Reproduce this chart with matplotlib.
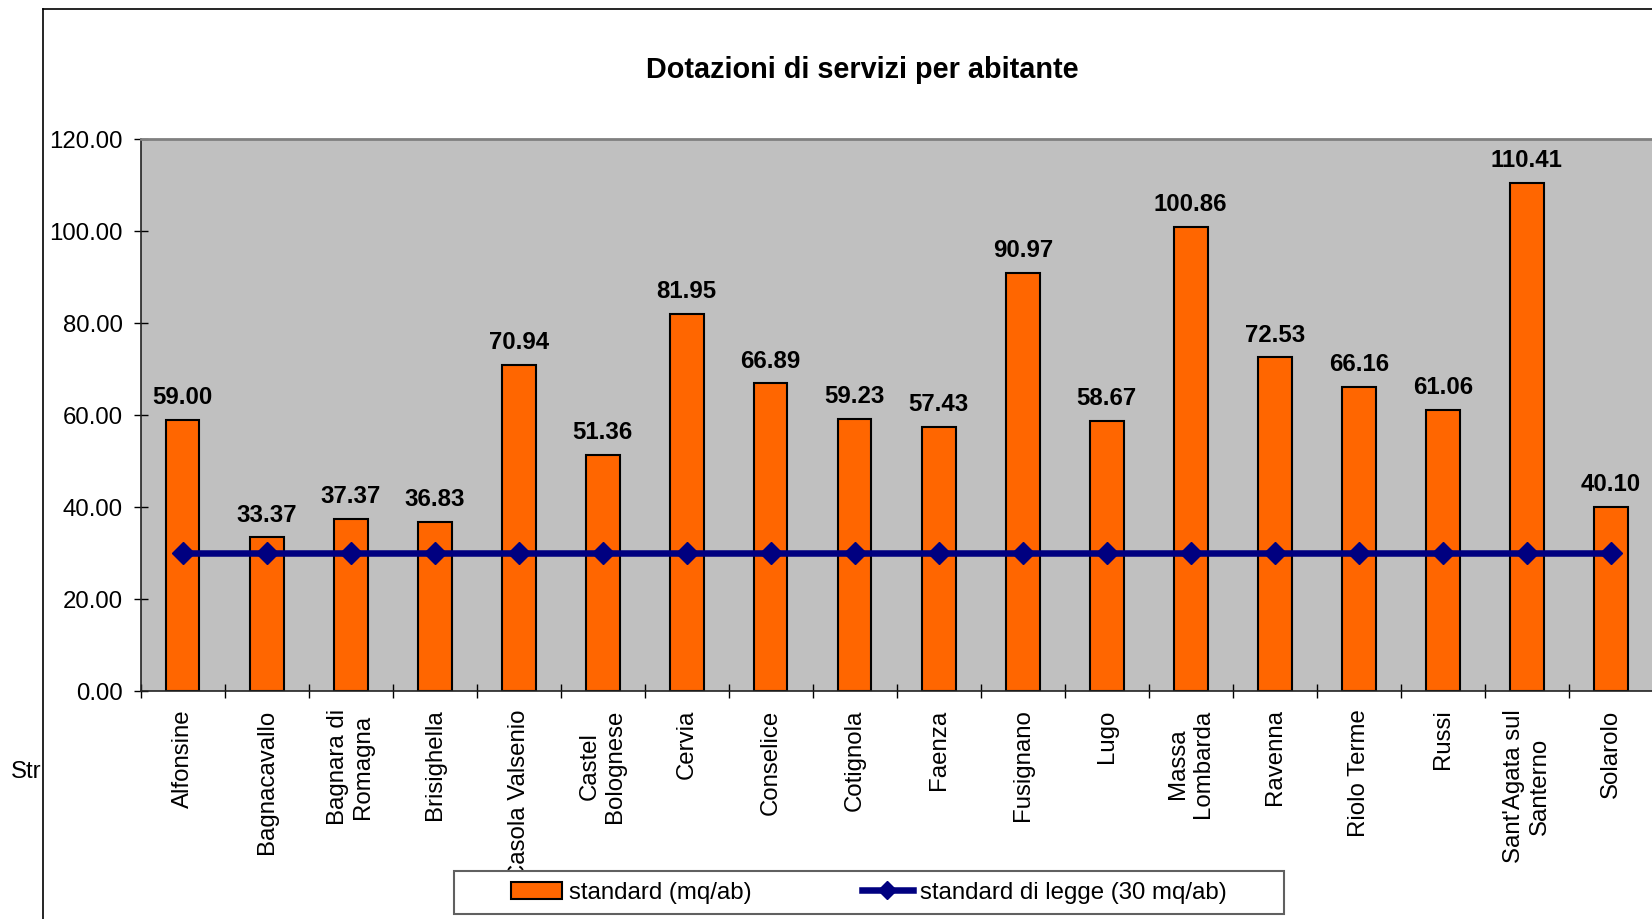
import matplotlib
matplotlib.use("Agg")
import matplotlib.pyplot as plt
from matplotlib.patches import Patch, Rectangle
from matplotlib.lines import Line2D

plt.rcParams['font.family'] = ['Liberation Sans', 'DejaVu Sans']

# Data
comuni = ["Alfonsine", "Bagnacavallo", "Bagnara di\nRomagna", "Brisighella",
          "Casola Valsenio", "Castel\nBolognese", "Cervia", "Conselice",
          "Cotignola", "Faenza", "Fusignano", "Lugo", "Massa\nLombarda",
          "Ravenna", "Riolo Terme", "Russi", "Sant'Agata sul\nSanterno", "Solarolo"]
standard = [59.00, 33.37, 37.37, 36.83, 70.94, 51.36, 81.95, 66.89, 59.23,
            57.43, 90.97, 58.67, 100.86, 72.53, 66.16, 61.06, 110.41, 40.10]
standard_legge = [30] * len(comuni)
yticks = [0, 20, 40, 60, 80, 100, 120]

FS = 17.3

W, H = 1652, 920
fig = plt.figure(figsize=(W / 100, H / 100), dpi=100)

def fx(px):
    return px / W

def fy(py):
    return 1 - py / H

ax_left, ax_right, ax_top, ax_bottom = 140.7, 1652.7, 140, 692
ax = fig.add_axes([fx(ax_left), fy(ax_bottom), (ax_right - ax_left) / W, (ax_bottom - ax_top) / H])
ax.set_facecolor('#C0C0C0')

x = list(range(len(comuni)))
ax.bar(x, standard, width=0.4, color='#FF6600', edgecolor='black', linewidth=1.5, zorder=2)
ax.plot(x, standard_legge, color='#000080', linewidth=4.7, marker='D', markersize=11,
        markeredgecolor='#000080', zorder=3, clip_on=False)

for xi, v in zip(x, standard):
    ax.annotate(f"{v:.2f}", (xi, v), xytext=(0, 12), textcoords='offset points',
                ha='center', va='baseline', fontsize=FS, fontweight='bold',
                annotation_clip=False)

ax.set_xlim(-0.5, len(comuni) - 0.5)
ax.set_ylim(0, 120)
ax.set_yticks(yticks)
ax.set_yticklabels([f"{v:.2f}" for v in yticks])
ax.tick_params(axis='y', direction='inout', length=10, width=1, pad=8, labelsize=FS)

ax.set_xticks(x)
ax.set_xticklabels(comuni, rotation=90, fontsize=FS, ha='center', va='top')
ax.tick_params(axis='x', which='major', length=0, pad=12.5)
ax.set_xticks([i - 0.5 for i in range(len(comuni) + 1)], minor=True)
ax.tick_params(axis='x', which='minor', direction='inout', length=10, width=1)

for s in ('left', 'bottom'):
    ax.spines[s].set_color('#222222')
    ax.spines[s].set_linewidth(1.2)
for s in ('top', 'right'):
    ax.spines[s].set_color('#808080')
    ax.spines[s].set_linewidth(2)

# Title
fig.text(fx(862), fy(78), "Dotazioni di servizi per abitante", ha='center', va='baseline',
         fontsize=20.8, fontweight='bold')

# Outer chart frame
fig.add_artist(Line2D([fx(43), fx(43)], [fy(10), fy(H + 5)], color='black', linewidth=1.2))
fig.add_artist(Line2D([fx(43), fx(W + 5)], [fy(10), fy(10)], color='black', linewidth=1.2))

fig.text(fx(11), fy(772), "Str", ha='left', va='center', fontsize=FS)

# Legend box
fig.add_artist(Rectangle((fx(454), fy(915)), fx(1284) - fx(454), fy(872) - fy(915),
                         facecolor='white', edgecolor='#606060', linewidth=1.5, zorder=4))
handles = [Patch(facecolor='#FF6600', edgecolor='black', linewidth=1.5),
           Line2D([], [], color='#000080', linewidth=4.7, marker='D', markersize=9)]
fig.legend(handles, ["standard (mq/ab)", "standard di legge (30 mq/ab)"],
           loc='center', bbox_to_anchor=(fx(869), fy(893.5)), ncol=2, frameon=False,
           fontsize=FS, handlelength=2.1, handletextpad=0.3, columnspacing=4.6)

fig.savefig("out.png", dpi=100)
